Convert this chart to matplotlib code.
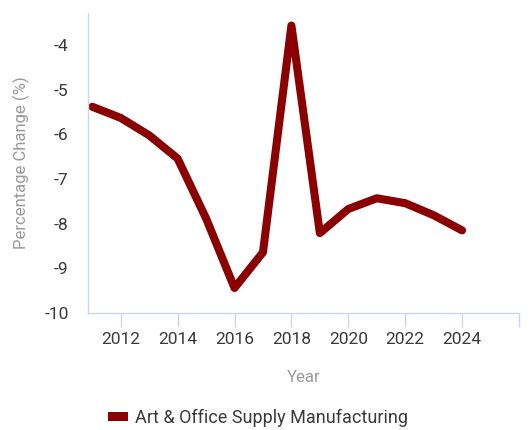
import matplotlib
matplotlib.use("Agg")
import matplotlib.pyplot as plt
from matplotlib.patches import Patch

years = [2011, 2012, 2013, 2014, 2015, 2016, 2017, 2018, 2019, 2020, 2021, 2022, 2023, 2024]
pct_change = [-5.38, -5.63, -6.02, -6.54, -7.88, -9.44, -8.64, -3.56, -8.21, -7.67, -7.43, -7.54, -7.81, -8.15]
series_name = "Art & Office Supply Manufacturing"
x_ticks = [2012, 2014, 2016, 2018, 2020, 2022, 2024, 2026]
x_tick_labels = ["2012", "2014", "2016", "2018", "2020", "2022", "2024", ""]
y_ticks = [-10, -9, -8, -7, -6, -5, -4]

plt.rcParams['font.family'] = ['Roboto', 'DejaVu Sans']

fig = plt.figure(figsize=(5.31, 4.30), dpi=100)
ax = fig.add_axes([88/531, 1-313/430, (519-88)/531, (313-13)/430])

color = "#8b0000"
ax.plot(years, pct_change, color=color, linewidth=5.8, solid_joinstyle='round', solid_capstyle='round')

ax.set_xlim(2010.85, 2026.0)
ax.set_ylim(-10, -3.28)
ax.set_xticks(x_ticks)
ax.set_xticklabels(x_tick_labels)
ax.set_yticks(y_ticks)
ax.set_yticklabels([str(v) for v in y_ticks])

for s in ['top', 'right']:
    ax.spines[s].set_visible(False)
spine_color = "#ccd6eb"
ax.spines['left'].set_color(spine_color)
ax.spines['bottom'].set_color(spine_color)
ax.spines['left'].set_linewidth(1)
ax.spines['bottom'].set_linewidth(1)

ax.tick_params(axis='x', colors=spine_color, length=10, width=1, labelcolor="#3a3a3a", labelsize=12.5, pad=4)
ax.tick_params(axis='y', length=0, labelcolor="#3a3a3a", labelsize=12.5, pad=14)

ax.set_xlabel("Year", fontsize=12, color="#999999", labelpad=16)
ax.set_ylabel("Percentage Change (%)", fontsize=12, color="#999999", labelpad=10)

handle = Patch(facecolor=color, edgecolor='none')
fig.legend([handle], [series_name], loc='center left', bbox_to_anchor=(92/531, 1-418/430),
           frameon=False, fontsize=13, handlelength=1.1, handleheight=0.42, handletextpad=0.4,
           labelcolor="#3a3a3a")

fig.savefig("out.png", dpi=100)
